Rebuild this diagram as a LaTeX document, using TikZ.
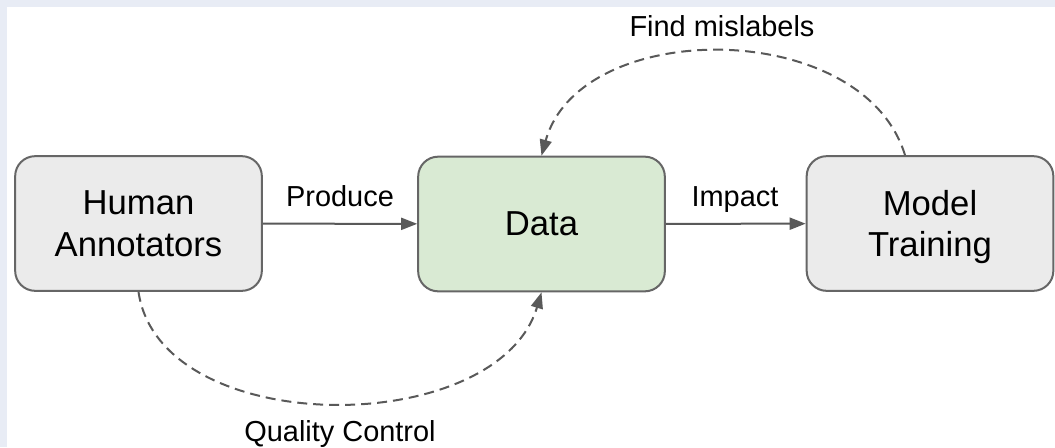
\documentclass[tikz,border=0pt]{standalone}
\usepackage{fontspec}
\setmainfont{Liberation Sans}
\usetikzlibrary{arrows.meta,calc}
\definecolor{bgedge}{HTML}{E8ECF5}
\definecolor{boxgray}{HTML}{EBEBEB}
\definecolor{boxgreen}{HTML}{D9EAD3}
\definecolor{bordergray}{HTML}{666666}
\definecolor{linegray}{HTML}{595959}
\begin{document}
\begin{tikzpicture}[x=0.75pt,y=-0.75pt,
  box/.style={draw=bordergray, line width=1.5pt, rounded corners=15pt,
    minimum width=185pt, minimum height=101pt, align=center, text depth=0pt,
    inner sep=0pt, font=\fontsize{26pt}{31.2pt}\selectfont},
  lab/.style={font=\fontsize{21.7pt}{26pt}\selectfont, inner sep=0pt},
  conn/.style={draw=linegray, line width=1.5pt,
    -{Triangle[length=12pt,width=9pt]}},
  dashconn/.style={conn, dash pattern=on 7.5pt off 4.5pt}]
  \useasboundingbox (0,0) rectangle (1055,447);
  \fill[bgedge] (0,0) rectangle (1055,447);
  \fill[white] (7,7) rectangle (1055,447);

  \node[box, fill=boxgray] (ha) at (138.5,223.5) {Human\\Annotators};
  \node[box, fill=boxgreen] (data) at (541.5,224) {Data};
  \node[box, fill=boxgray] (mt) at (930,223.5) {Model\\Training};

  \draw[conn] (ha) -- (data);
  \draw[conn] (data) -- (mt);

  \draw[dashconn] ($(mt.north)+(-25,0)$) .. controls (863,17) and (580,17) .. (data.north);
  \draw[dashconn] (ha.south) .. controls (160,440) and (497,440) .. (data.south);

  \node[lab, anchor=base] (lprod) at (340,206.7) {Produce};
  \node[lab, anchor=base] (limp) at (735,206.7) {Impact};
  \node[lab, anchor=base] (lfind) at (722,36) {Find mislabels};
  \node[lab, anchor=base] (lqc) at (340,441) {Quality Control};
\end{tikzpicture}
\end{document}
